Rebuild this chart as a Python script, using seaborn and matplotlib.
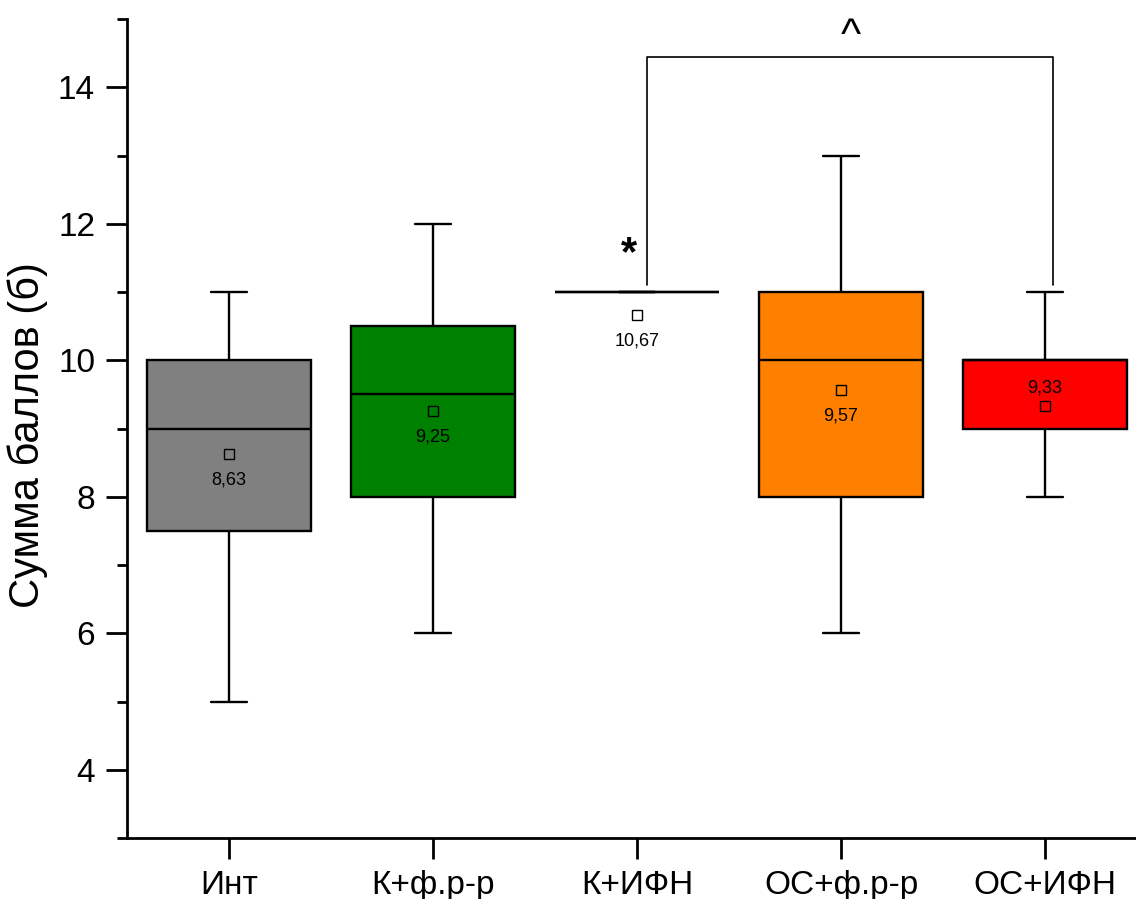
import numpy as np
import pandas as pd
import matplotlib
matplotlib.use("Agg")
import matplotlib.pyplot as plt
import seaborn as sns

# ---- data ----
categories = ["Инт", "К+ф.р-р", "К+ИФН", "ОС+ф.р-р", "ОС+ИФН"]
whisker_low = [5, 6, 11, 6, 8]
q1 = [7.5, 8, 11, 8, 9]
median = [9, 9.5, 11, 10, 10]
q3 = [10, 10.5, 11, 11, 10]
whisker_high = [11, 12, 11, 13, 11]
means = [8.63, 9.25, 10.67, 9.57, 9.33]
mean_labels = ["8,63", "9,25", "10,67", "9,57", "9,33"]
colors = ["#808080", "#008000", "#FFFFFF", "#FF8000", "#FF0000"]
y_label = "Сумма баллов (б)"

# five-number summaries as tiny samples (exact quartiles with linear interpolation)
rows = []
for i, c in enumerate(categories):
    for v in (whisker_low[i], q1[i], median[i], q3[i], whisker_high[i]):
        rows.append({"group": c, "value": v})
df = pd.DataFrame(rows)

sns.set_theme(style="ticks")
plt.rcParams["font.family"] = ["Liberation Sans", "DejaVu Sans"]
plt.rcParams["text.color"] = "black"
plt.rcParams["axes.labelcolor"] = "black"

fig = plt.figure(figsize=(11.36, 8.99), dpi=100)
ax = fig.add_axes([127 / 1136, 1 - 838 / 899, (1147 - 127) / 1136, (838 - 19) / 899])

sns.boxplot(data=df, x="group", y="value", hue="group", palette=colors,
            order=categories, hue_order=categories, legend=False,
            whis=(0, 100), width=0.8, saturation=1, linecolor="black",
            linewidth=1.7, capwidths=0.18, ax=ax)

# mean markers and labels
xs = np.arange(len(categories))
ax.plot(xs, means, linestyle="none", marker="s", markersize=7,
        markerfacecolor="none", markeredgecolor="black", markeredgewidth=1.0, zorder=5)
for i, (m, lab) in enumerate(zip(means, mean_labels)):
    if i == len(categories) - 1:
        ax.annotate(lab, (xs[i], m), xytext=(0, 18), textcoords="offset pixels",
                    ha="center", va="center", fontsize=13, color="black")
    else:
        ax.annotate(lab, (xs[i], m), xytext=(0, -26), textcoords="offset pixels",
                    ha="center", va="center", fontsize=13, color="black")

# significance bracket
ax.plot([2.05, 2.05, 4.04, 4.04], [11.1, 14.45, 14.45, 11.1], color="black", linewidth=1.2)
ax.text(1.96, 11.55, "*", ha="center", va="center", fontsize=30, fontweight="bold", color="black")
ax.text(3.05, 14.74, "^", ha="center", va="center", fontsize=31, color="black")

ax.set_xlim(-0.5, 4.5)
ax.set_ylim(3, 15)
ax.set_yticks([4, 6, 8, 10, 12, 14])
ax.set_yticks([3, 5, 7, 9, 11, 13, 15], minor=True)
ax.set_xlabel("")
ax.set_ylabel(y_label, fontsize=30, va="center", color="black")
ax.yaxis.set_label_coords((28 - 127) / 1020, 0.492)
ax.tick_params(axis="both", which="major", direction="out", length=15, width=2,
               labelsize=24, pad=8, color="black", labelcolor="black")
ax.tick_params(axis="y", which="minor", direction="out", length=7, width=2, color="black")
for s in ["top", "right"]:
    ax.spines[s].set_visible(False)
for s in ["left", "bottom"]:
    ax.spines[s].set_linewidth(2)
    ax.spines[s].set_color("black")

fig.savefig("out.png", dpi=100)
